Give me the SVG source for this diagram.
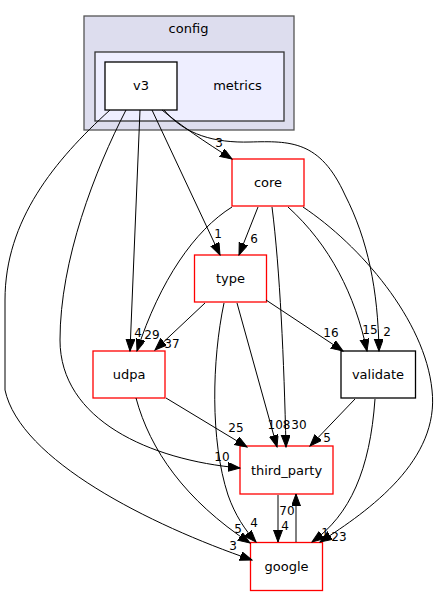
<svg xmlns="http://www.w3.org/2000/svg" width="439" height="596" viewBox="0 0 439 596">
<style>
.nt{font-family:"DejaVu Sans","Liberation Sans",sans-serif;font-size:13px;text-anchor:middle;fill:#000}
.et{font-family:"DejaVu Sans","Liberation Sans",sans-serif;font-size:12px;text-anchor:middle;fill:#000}
.red{fill:#fff;stroke:#ff0000;stroke-width:1.3}
.blk{fill:#fff;stroke:#000;stroke-width:1.3}
.e{fill:none;stroke:#000;stroke-width:1;marker-end:url(#ah)}
</style>
<defs>
<marker id="ah" markerUnits="userSpaceOnUse" markerWidth="13" markerHeight="10" refX="12" refY="4.5" orient="auto">
<path d="M0,0 L12,4.5 L0,9 z" fill="#000" stroke="#000" stroke-width="1"/>
</marker>
</defs>
<rect width="439" height="596" fill="#fff"/>
<g id="cluster_config">
<rect x="84" y="16" width="210" height="114" fill="#ddddee" stroke="#555" stroke-width="1.3"/>
<text class="nt" x="188.5" y="33">config</text>
</g>
<g id="cluster_metrics">
<rect x="95" y="52" width="189" height="69" fill="#eeeeff" stroke="#333" stroke-width="1.3"/>
<text class="nt" x="237.5" y="90">metrics</text>
</g>
<g id="node_v3">
<rect class="blk" x="105" y="62" width="72" height="48"/>
<text class="nt" x="141" y="90">v3</text>
</g>
<g id="node_core">
<rect class="red" x="232" y="159" width="72" height="47"/>
<text class="nt" x="268" y="187">core</text>
</g>
<g id="node_type">
<rect class="red" x="194.5" y="255" width="72" height="47"/>
<text class="nt" x="230.5" y="283">type</text>
</g>
<g id="node_udpa">
<rect class="red" x="93" y="351" width="72" height="47"/>
<text class="nt" x="129" y="379">udpa</text>
</g>
<g id="node_validate">
<rect class="blk" x="341" y="351" width="74.5" height="47"/>
<text class="nt" x="378" y="379">validate</text>
</g>
<g id="node_third_party">
<rect class="red" x="240" y="446" width="93" height="48"/>
<text class="nt" x="286.5" y="475">third_party</text>
</g>
<g id="node_google">
<rect class="red" x="250.5" y="542.5" width="72" height="48"/>
<text class="nt" x="286.5" y="571">google</text>
</g>
<g id="edges">
<path class="e" d="M162,110 C180,125 205,142 232,159"/>
<text class="et" x="219" y="147">3</text>
<path class="e" d="M164,110 C185,135 215,143 250,142 C290,141 320,140 345,195 C368,240 378,290 379,351"/>
<text class="et" x="387" y="336">2</text>
<path class="e" d="M152,110 L220,255"/>
<text class="et" x="218" y="238">1</text>
<path class="e" d="M140,110 L130,351"/>
<text class="et" x="138" y="337">4</text>
<path class="e" d="M232,207 C195,230 160,280 137,351"/>
<text class="et" x="152" y="339">29</text>
<path class="e" d="M205,303 L155,350"/>
<text class="et" x="172" y="348">37</text>
<path class="e" d="M126,110 C95,170 60,260 60,340 C60,420 150,460 240,468"/>
<text class="et" x="222" y="461">10</text>
<path class="e" d="M110,110 C55,160 5,220 5,300 L5,390 C20,460 150,525 252,560"/>
<text class="et" x="233" y="550">3</text>
<path class="e" d="M258,207 L239,255"/>
<text class="et" x="254" y="243">6</text>
<path class="e" d="M237,303 L277,447"/>
<text class="et" x="279" y="429">108</text>
<path class="e" d="M272,207 C280,270 284,360 286,447"/>
<text class="et" x="299" y="429">30</text>
<path class="e" d="M288,207 C330,245 355,295 367,351"/>
<text class="et" x="370" y="334">15</text>
<path class="e" d="M375,399 C370,470 350,515 312,542"/>
<text class="et" x="325" y="537">1</text>
<path class="e" d="M303,207 C360,245 425,320 432,390 C440,460 370,510 320,542"/>
<text class="et" x="339" y="541">23</text>
<path class="e" d="M266,300 L343,351"/>
<text class="et" x="331" y="337">16</text>
<path class="e" d="M224,303 C212,360 210,440 228,495 C235,515 245,530 256,542"/>
<text class="et" x="254" y="527">4</text>
<path class="e" d="M166,398 L247,447"/>
<text class="et" x="236" y="432">25</text>
<path class="e" d="M136,398 C150,450 185,500 250,543"/>
<text class="et" x="238" y="533">5</text>
<path class="e" d="M355,399 L310,446"/>
<text class="et" x="327" y="442">5</text>
<path class="e" d="M278,495 L278,542"/>
<text class="et" x="287" y="515">70</text>
<path class="e" d="M296,542 L296,494"/>
<text class="et" x="285" y="530">4</text>
</g>
</svg>
